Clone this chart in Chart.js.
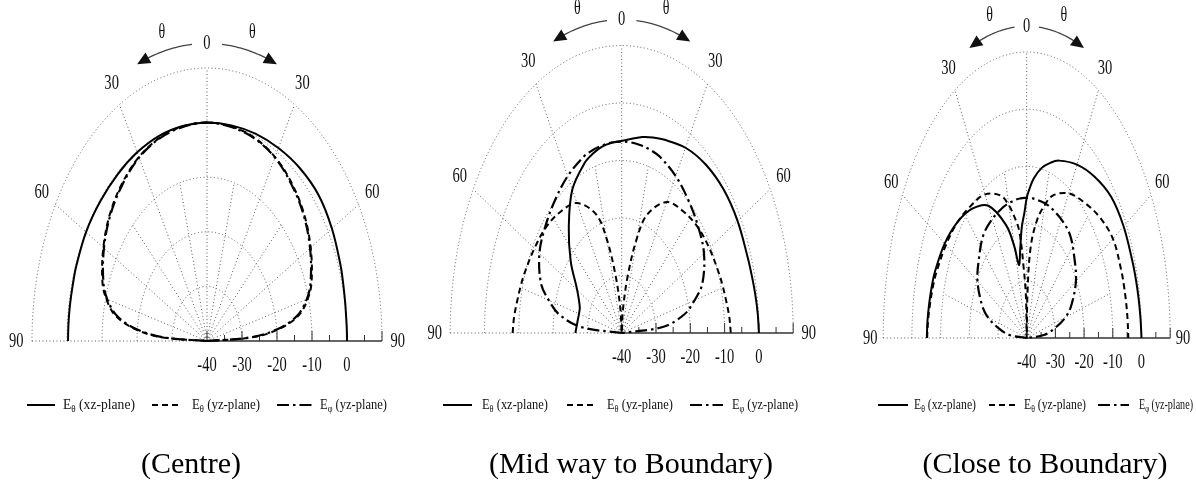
<!DOCTYPE html>
<html lang="en">
<head>
<meta charset="UTF-8">
<title>Radiation patterns - three feed positions</title>
<script src="https://cdn.jsdelivr.net/npm/chart.js"></script>
<style>
    body { margin: 0; background: #ffffff; }
    .page { position: relative; width: 1196px; height: 488px; overflow: hidden; }
    .layer { position: absolute; left: 0; top: 0; width: 1196px; height: 488px; }
    .caption {
        position: absolute;
        top: 448px;
        font-family: "Liberation Serif", "Times New Roman", serif;
        font-size: 30px;
        line-height: 30px;
        color: #000;
        white-space: nowrap;
        transform: translateX(-50%);
    }
</style>
</head>
<body>
<div class="page">
    <div class="layer"><canvas id="c1"></canvas></div>
    <div class="layer"><canvas id="c2"></canvas></div>
    <div class="layer"><canvas id="c3"></canvas></div>
    <div class="caption" style="left:191px">(Centre)</div>
    <div class="caption" style="left:631px">(Mid way to Boundary)</div>
    <div class="caption" style="left:1045px">(Close to Boundary)</div>
</div>

<script>
// radial axis: dB, centre of the plot is -40 dB, outer ring +10 dB
const DB_MIN = -40;
const RADIAL_TICKS = [-40, -30, -20, -10, 0];
const RING_DB = [-30, -20, -10, 0, 10];
const ANGLE_TICKS = [0, 30, 60, 90];

// Centre
const thetaCentre = [-90, -87, -84, -80, -75, -70, -60, -50, -40, -30, -20, -10, 0, 10, 20, 30, 40, 50, 60, 70, 75, 80, 84, 87, 90];
const centreEthXz = [-0.3, -0.3, -0.3, -0.3, -0.3, -0.2, -0.1, -0.2, -0.2, -0.1, 0, 0, 0, 0.1, 0.4, 0.8, 1.3, 1.6, 1.2, 0.6, 0.3, 0.1, 0, 0, 0];
const centreEthYz = [-40, -27, -19.5, -13.5, -10.2, -8.2, -5.8, -3.8, -2.3, -1.1, -0.4, -0.1, 0, -0.1, -0.4, -1.1, -2.3, -3.8, -5.8, -8.2, -10.2, -13.5, -19.5, -27, -40];
const centreEphYz = [-40, -28, -20, -14, -10.5, -8.5, -6, -4, -2.5, -1.2, -0.5, -0.2, 0, -0.2, -0.5, -1.2, -2.5, -4, -6, -8.5, -10.5, -14, -20, -28, -40];

// Mid way to boundary
const thetaMid = [-90, -85, -80, -75, -70, -60, -50, -40, -30, -20, -15, -10, -5, 0, 5, 10, 15, 20, 30, 40, 50, 60, 70, 75, 80, 85, 90];
const midEthXz = [-26.5, -26.8, -27, -27.1, -27, -25, -20.6, -16, -11.2, -8.5, -7.7, -7.1, -6.8, -6.6, -6.1, -5.4, -4.8, -4.2, -2.8, -1.8, -1.2, -1, -1, -0.8, -0.5, -0.2, 0];
const midEthYz = [-8.2, -8.5, -9, -9.4, -9.8, -10.6, -11.3, -12.4, -13.9, -18, -23, -30, -36, -40, -36, -30, -23, -18, -13.7, -12.3, -11.2, -10.5, -9.8, -9.4, -9, -8.5, -8.2];
const midEphYz = [-40, -28, -21.5, -18, -15, -12.3, -11, -9.8, -8.5, -7.4, -7.1, -6.9, -6.75, -6.7, -6.75, -6.9, -7.1, -7.4, -8.5, -9.8, -11, -12.3, -15, -18, -21.5, -28, -40];

// Close to boundary
const thetaClose = [-90, -85, -80, -75, -70, -60, -50, -40, -30, -20, -15, -12, -8, -5, -2, 0, 2, 5, 10, 15, 20, 30, 40, 50, 60, 70, 75, 80, 85, 90];
const closeEthXz = [-5.2, -5.3, -5.5, -5.7, -6, -7, -8.5, -10.5, -13.3, -19, -23.5, -27, -24, -20.5, -18, -15.5, -14, -12, -9.8, -8.3, -7, -5, -3.2, -1.6, -1, -0.8, -0.6, -0.4, -0.2, 0];
const closeEthYz = [-5.3, -5.5, -5.8, -6.1, -6.5, -7.5, -8.5, -9.8, -11, -13.5, -16, -18, -21, -27.5, -33, -40, -32, -24, -19, -16, -13.5, -10.8, -9, -7, -5.3, -5, -4.9, -4.8, -4.7, -4.6];
const closeEphYz = [-40, -34, -30, -26, -23.5, -20.2, -18.3, -16.5, -16, -15.7, -15.6, -15.6, -15.5, -15.5, -15.5, -15.5, -15.5, -15.5, -15.6, -15.6, -15.7, -16, -16.5, -18.3, -20.2, -23.5, -26, -30, -34, -40];

const LEGEND_LABELS = [
    { sub: '\u03b8', text: ' (xz-plane)' },
    { sub: '\u03b8', text: ' (yz-plane)' },
    { sub: '\u03c6', text: ' (yz-plane)' }
];

// line styles for the three series
const STYLES = [
    { dash: [], width: 2 },
    { dash: [6, 4], width: 2 },
    { dash: [12, 4, 2.5, 4], width: 2.2 }
];

// page layout (pixels): pole position and radii of the +10 dB ring
const panels = [
    { id: 'c1', cx: 207, cy: 341, rx: 175, ry: 273, theta: thetaCentre,
      series: [centreEthXz, centreEthYz, centreEphYz],
      legend: [[27, 55, 63, 135], [152, 182, 192, 260], [277, 312, 320, 387]] },
    { id: 'c2', cx: 621.7, cy: 333, rx: 171.5, ry: 287.5, theta: thetaMid,
      series: [midEthXz, midEthYz, midEphYz],
      legend: [[443, 472, 482, 548], [567, 597, 607, 673], [690, 723, 732, 798]] },
    { id: 'c3', cx: 1026.7, cy: 338, rx: 143.5, ry: 286, theta: thetaClose,
      series: [closeEthXz, closeEthYz, closeEphYz],
      legend: [[878, 908, 914, 976], [989, 1016, 1024, 1086], [1098, 1129, 1139, 1193]] }
];

const R_OUT = RING_DB[RING_DB.length - 1] - DB_MIN;
const SERIF = '"Liberation Serif", "Times New Roman", serif';
const GRID = '#5a5a5a';

function toXY(theta, db) {
    const r = Math.max(db - DB_MIN, 0);
    const a = theta * Math.PI / 180;
    return { x: r * Math.sin(a), y: r * Math.cos(a) };
}

function condensedText(ctx, text, x, y, size, sx) {
    ctx.save();
    ctx.font = size + 'px ' + SERIF;
    ctx.textAlign = 'center';
    ctx.textBaseline = 'middle';
    ctx.translate(x, y);
    ctx.scale(sx, 1);
    ctx.fillStyle = '#111';
    ctx.fillText(text, 0, 0);
    ctx.restore();
}

const polarDecor = {
    id: 'polarDecor',
    beforeDatasetsDraw(chart) {
        const ctx = chart.ctx;
        const xs = chart.scales.x, ys = chart.scales.y;
        const P = (r, a) => {
            const t = a * Math.PI / 180;
            return [xs.getPixelForValue(r * Math.sin(t)), ys.getPixelForValue(r * Math.cos(t))];
        };
        const cx = xs.getPixelForValue(0), cy = ys.getPixelForValue(0);
        const kx = xs.getPixelForValue(1) - cx, ky = cy - ys.getPixelForValue(1);

        ctx.save();
        ctx.strokeStyle = GRID;
        ctx.lineWidth = 1;
        ctx.setLineDash([1, 2.5]);
        // rings
        RING_DB.forEach(db => {
            const r = db - DB_MIN;
            ctx.beginPath();
            ctx.ellipse(cx, cy, r * kx, r * ky, 0, Math.PI, 2 * Math.PI);
            ctx.stroke();
        });
        // spokes
        [-60, -30, 0, 30, 60].forEach(a => {
            const p = P(R_OUT, a);
            ctx.beginPath(); ctx.moveTo(cx, cy); ctx.lineTo(p[0], p[1]); ctx.stroke();
        });
        [-75, -45, -15, 15, 45, 75].forEach(a => {
            const p = P(30, a);
            ctx.beginPath(); ctx.moveTo(cx, cy); ctx.lineTo(p[0], p[1]); ctx.stroke();
        });
        // left half of the 90 deg line
        ctx.beginPath(); ctx.moveTo(cx - R_OUT * kx, cy); ctx.lineTo(cx, cy); ctx.stroke();

        // radial axis on the right
        ctx.setLineDash([]);
        ctx.strokeStyle = '#333';
        ctx.lineWidth = 1.3;
        ctx.beginPath(); ctx.moveTo(cx, cy); ctx.lineTo(cx + R_OUT * kx, cy); ctx.stroke();
        ctx.lineWidth = 1;
        for (let r = 0; r <= R_OUT; r += 5) {
            const h = (r % 10 === 0) ? 10 : 6;
            const x = cx + r * kx;
            ctx.beginPath(); ctx.moveTo(x, cy); ctx.lineTo(x, cy - h); ctx.stroke();
        }
        ctx.restore();
    },
    afterDraw(chart, args, opts) {
        const ctx = chart.ctx;
        const xs = chart.scales.x, ys = chart.scales.y;
        const P = (r, a) => {
            const t = a * Math.PI / 180;
            return [xs.getPixelForValue(r * Math.sin(t)), ys.getPixelForValue(r * Math.cos(t))];
        };
        const cy = ys.getPixelForValue(0);

        // radial tick labels
        RADIAL_TICKS.forEach(db => {
            condensedText(ctx, String(db), xs.getPixelForValue(db - DB_MIN), cy + 24, 22, 0.66);
        });
        // angle labels
        const RL = 54.5;
        ANGLE_TICKS.forEach(a => {
            const sides = a === 0 ? [0] : [-a, a];
            sides.forEach(s => {
                const p = P(RL, s);
                condensedText(ctx, String(a), p[0], p[1], 22, 0.66);
            });
        });
        // theta labels
        [-13, 13].forEach(s => {
            const p = P(57.5, s);
            condensedText(ctx, '\u03b8', p[0], p[1] - 2, 20, 0.7);
        });
        // theta arrows
        ctx.save();
        ctx.strokeStyle = '#444';
        ctx.fillStyle = '#111';
        ctx.lineWidth = 1.3;
        [-1, 1].forEach(sg => {
            ctx.beginPath();
            for (let a = 4.5; a <= 18; a += 0.5) {
                const p = P(RL, sg * a);
                if (a === 4.5) ctx.moveTo(p[0], p[1]); else ctx.lineTo(p[0], p[1]);
            }
            ctx.stroke();
            const tip = P(RL, sg * 21.5), back = P(RL, sg * 18);
            let dx = tip[0] - back[0], dy = tip[1] - back[1];
            const len = Math.hypot(dx, dy); dx /= len; dy /= len;
            const bx = tip[0] - dx * 13, by = tip[1] - dy * 13;
            ctx.beginPath();
            ctx.moveTo(tip[0], tip[1]);
            ctx.lineTo(bx - dy * 6, by + dx * 6);
            ctx.lineTo(bx + dy * 6, by - dx * 6);
            ctx.closePath();
            ctx.fill();
        });
        ctx.restore();

        // legend
        const ly = 405;
        opts.legend.forEach((slot, i) => {
            const st = STYLES[i];
            ctx.save();
            ctx.strokeStyle = '#000';
            ctx.lineWidth = st.width;
            ctx.setLineDash(st.dash);
            ctx.beginPath(); ctx.moveTo(slot[0], ly); ctx.lineTo(slot[1], ly); ctx.stroke();
            ctx.setLineDash([]);
            const lab = LEGEND_LABELS[i];
            ctx.font = '15px ' + SERIF;
            const wE = ctx.measureText('E').width;
            const wT = ctx.measureText(lab.text).width;
            ctx.font = '10px ' + SERIF;
            const wS = ctx.measureText(lab.sub).width;
            const sx = (slot[3] - slot[2]) / (wE + wS + wT);
            ctx.translate(slot[2], ly);
            ctx.scale(sx, 1);
            ctx.fillStyle = '#111';
            ctx.textBaseline = 'middle';
            ctx.textAlign = 'left';
            ctx.font = '15px ' + SERIF;
            ctx.fillText('E', 0, 0);
            ctx.font = '10px ' + SERIF;
            ctx.fillText(lab.sub, wE, 4);
            ctx.font = '15px ' + SERIF;
            ctx.fillText(lab.text, wE + wS, 0);
            ctx.restore();
        });
    }
};

panels.forEach(pn => {
    const datasets = pn.series.map((vals, i) => ({
        label: 'E' + LEGEND_LABELS[i].sub + LEGEND_LABELS[i].text,
        data: pn.theta.map((t, k) => toXY(t, vals[k])),
        showLine: true,
        borderColor: '#000',
        borderWidth: STYLES[i].width,
        borderDash: STYLES[i].dash,
        pointRadius: 0,
        tension: 0.35,
        fill: false,
        clip: false
    }));

    new Chart(document.getElementById(pn.id), {
        type: 'scatter',
        data: { datasets: datasets },
        options: {
            responsive: true,
            maintainAspectRatio: false,
            animation: false,
            layout: {
                padding: {
                    left: pn.cx - pn.rx,
                    right: 1196 - (pn.cx + pn.rx),
                    top: pn.cy - pn.ry,
                    bottom: 488 - pn.cy
                }
            },
            scales: {
                x: { type: 'linear', display: false, min: -R_OUT, max: R_OUT },
                y: { type: 'linear', display: false, min: 0, max: R_OUT }
            },
            plugins: {
                legend: { display: false },
                tooltip: { enabled: false },
                polarDecor: { legend: pn.legend }
            }
        },
        plugins: [polarDecor]
    });
});
</script>
</body>
</html>
